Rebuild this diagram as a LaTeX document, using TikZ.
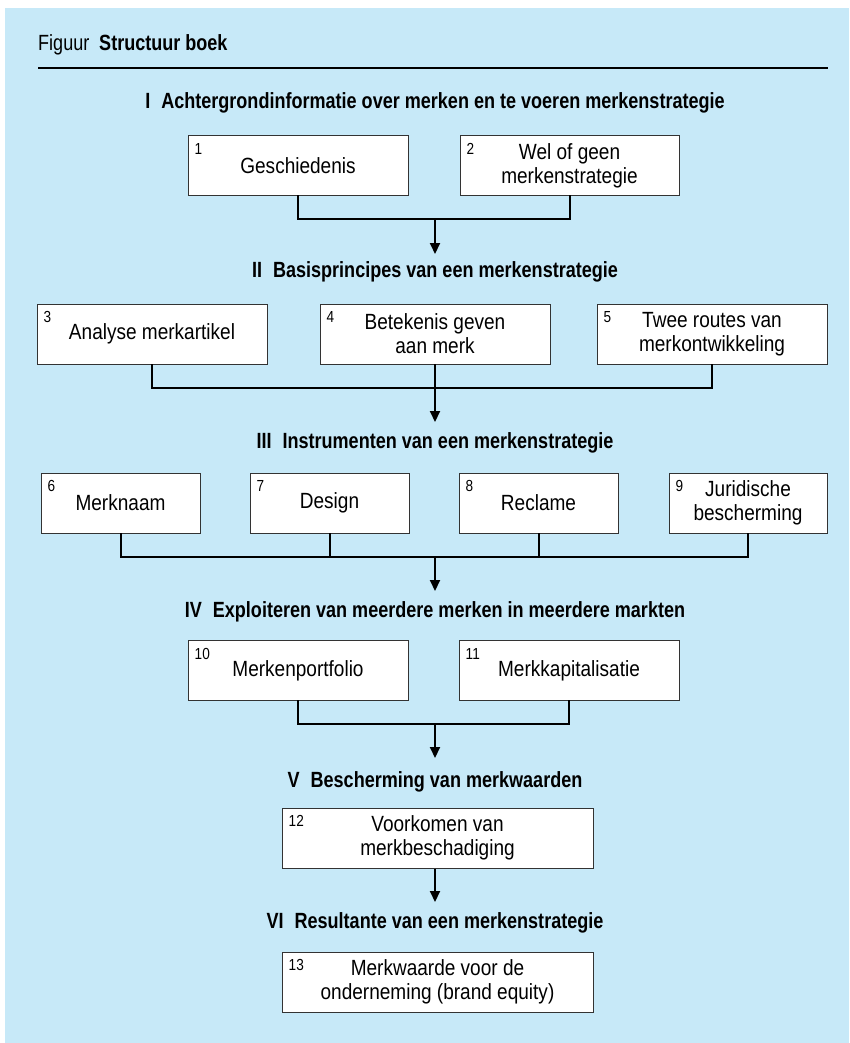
\documentclass[tikz,border=0pt]{standalone}
\usepackage{fontspec}
\setmainfont{Liberation Sans}[FakeStretch=0.865]
\newfontfamily\headfont{Liberation Sans}[FakeStretch=0.82]
\newfontfamily\numfont{Liberation Sans}[FakeStretch=0.85]
\usetikzlibrary{arrows.meta}
\definecolor{bgblue}{HTML}{C7E9F8}
\definecolor{boxline}{HTML}{333333}
\tikzset{
  box/.style={draw=boxline, line width=1pt, fill=white, inner sep=2pt, align=center,
    font=\fontsize{22}{24}\selectfont},
  num/.style={anchor=north west, inner sep=0pt, font=\numfont\fontsize{16}{18}\selectfont},
  heading/.style={inner sep=0pt, font=\headfont\bfseries\fontsize{22}{24}\selectfont},
  conn/.style={line width=2pt, line cap=rect},
  arr/.style={line width=2pt, -{Triangle[length=11pt,width=10pt]}},
}
\begin{document}
\begin{tikzpicture}[x=1pt,y=-1pt]
\useasboundingbox (0,0) rectangle (849,1043);
\fill[bgblue] (5,8) rectangle (849,1043);
% title
\node[anchor=west, inner sep=0pt, font=\headfont\fontsize{22}{23}\selectfont] (title) at (38,45) {Figuur\hspace{0.45em}\textbf{Structuur boek}};
\coordinate (ruleL) at (38,68);
\coordinate (ruleR) at (828,68);
\draw[line width=2pt] (ruleL) -- (ruleR);
% headings
\node[heading] (h1) at (435,103) {I\hspace{0.5em}Achtergrondinformatie over merken en te voeren merkenstrategie};
\node[heading] (h2) at (435,272) {II\hspace{0.5em}Basisprincipes van een merkenstrategie};
\node[heading] (h3) at (435,443) {III\hspace{0.5em}Instrumenten van een merkenstrategie};
\node[heading] (h4) at (435,612) {IV\hspace{0.5em}Exploiteren van meerdere merken in meerdere markten};
\node[heading] (h5) at (435,782) {V\hspace{0.5em}Bescherming van merkwaarden};
\node[heading] (h6) at (435,923) {VI\hspace{0.5em}Resultante van een merkenstrategie};
% row 1
\node[box, minimum width=220, minimum height=60] (b1) at (298,165.5) {Geschiedenis};
\node[box, minimum width=219, minimum height=60] (b2) at (569.5,165.5) {Wel of geen\\merkenstrategie};
% row 2
\node[box, minimum width=230, minimum height=60] (b3) at (152,334) {Analyse merkartikel};
\node[box, minimum width=230, minimum height=60] (b4) at (435,334) {Betekenis geven\\aan merk};
\node[box, minimum width=230, minimum height=60] (b5) at (712,334) {Twee routes van\\merkontwikkeling};
% row 3
\node[box, minimum width=159, minimum height=60] (b6) at (120.5,503) {Merknaam};
\node[box, minimum width=159, minimum height=60] (b7) at (329.5,503) {Design};
\node[box, minimum width=159, minimum height=60] (b8) at (538.5,503) {Reclame};
\node[box, minimum width=158, minimum height=60] (b9) at (748,503) {Juridische\\bescherming};
% row 4
\node[box, minimum width=220, minimum height=60] (b10) at (298,670.5) {Merkenportfolio};
\node[box, minimum width=220, minimum height=60] (b11) at (569,670.5) {Merkkapitalisatie};
% row 5, 6
\node[box, minimum width=311, minimum height=60] (b12) at (437.5,838) {Voorkomen van\\merkbeschadiging};
\node[box, minimum width=311, minimum height=60] (b13) at (437.5,982) {Merkwaarde voor de\\onderneming (brand equity)};
% numbers
\foreach \b/\n in {b1/1,b2/2,b3/3,b4/4,b5/5,b6/6,b7/7,b8/8,b9/9,b10/10,b11/11,b12/12,b13/13}{
  \node[num] (n\b) at ([xshift=7pt,yshift=-8pt]\b.north west) {\n};
}
% connectors row 1
\coordinate (j1) at (435,219);
\coordinate (t1) at (435,254);
\draw[conn] (b1.south) |- (j1) -| (b2.south);
\draw[arr] (j1) -- (t1);
% row 2
\coordinate (j2) at (435,388);
\coordinate (t2) at (435,422);
\draw[conn] (b3.south) |- (j2) -| (b5.south);
\draw[conn] (b4.south) -- (j2);
\draw[arr] (j2) -- (t2);
% row 3
\coordinate (j3) at (435,557);
\coordinate (t3) at (435,591);
\draw[conn] (b6.south) |- (j3) -| (b9.south);
\draw[conn] (b7.south) -- (b7.south |- j3);
\draw[conn] (b8.south) -- (b8.south |- j3);
\draw[arr] (j3) -- (t3);
% row 4
\coordinate (j4) at (435,724);
\coordinate (t4) at (435,758);
\draw[conn] (b10.south) |- (j4) -| (b11.south);
\draw[arr] (j4) -- (t4);
% row 5
\coordinate (t5) at (435,902);
\draw[arr] (b12.south -| t5) -- (t5);
\end{tikzpicture}
\end{document}
